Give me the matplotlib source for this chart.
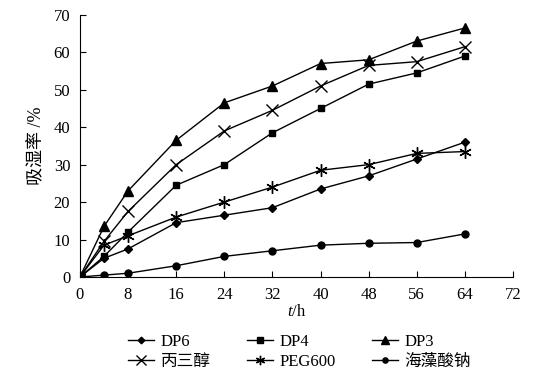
import matplotlib
matplotlib.use("Agg")
import matplotlib.pyplot as plt
from matplotlib.lines import Line2D

plt.rcParams['font.family'] = ['Liberation Serif', 'Noto Sans CJK SC']
plt.rcParams['mathtext.fontset'] = 'custom'
plt.rcParams['mathtext.it'] = 'Liberation Serif:italic'
plt.rcParams['mathtext.rm'] = 'Liberation Serif'

t = [0, 4, 8, 16, 24, 32, 40, 48, 56, 64]
dp6 = [0, 5.0, 7.5, 14.5, 16.5, 18.5, 23.5, 27.0, 31.5, 36.0]
dp4 = [0, 5.5, 12.0, 24.5, 30.0, 38.5, 45.0, 51.5, 54.5, 59.0]
dp3 = [0, 13.5, 23.0, 36.5, 46.5, 51.0, 57.0, 58.0, 63.0, 66.5]
glycerol = [0, 9.5, 17.5, 30.0, 39.0, 44.5, 51.0, 56.5, 57.5, 61.5]
peg600 = [0, 8.5, 11.0, 16.0, 20.0, 24.0, 28.5, 30.0, 33.0, 33.5]
alginate = [0, 0.5, 1.0, 3.0, 5.5, 7.0, 8.5, 9.0, 9.2, 11.5]

names = ['DP6', 'DP4', 'DP3', '丙三醇', 'PEG600', '海藻酸钠']
series = [dp6, dp4, dp3, glycerol, peg600, alginate]
markers = ['D', 's', '^', 'x', (6, 2, 0), 'o']
sizes = [4.5, 5, 7, 9, 9, 5]

xticks = [0, 8, 16, 24, 32, 40, 48, 56, 64, 72]
yticks = [0, 10, 20, 30, 40, 50, 60, 70]

fig = plt.figure(figsize=(5.4, 3.81), dpi=100)
ax = fig.add_axes([0.148, 0.273, 0.802, 0.688])

handles = []
for name, ys, m, s in zip(names, series, markers, sizes):
    ax.plot(t, ys, color='black', lw=1.0, marker=m, markersize=s,
            markeredgewidth=1.0, markerfacecolor='black', markeredgecolor='black')
    handles.append(Line2D([], [], color='black', lw=1.0, marker=m,
                          markersize=s * 0.75, markeredgewidth=1.0,
                          markerfacecolor='black', label=name))

ax.set_xlim(0, 72)
ax.set_ylim(0, 70)
ax.set_xticks(xticks)
ax.set_yticks(yticks)
ax.spines['top'].set_visible(False)
ax.spines['right'].set_visible(False)
ax.tick_params(direction='in', length=4, labelsize=12, pad=7)
ax.set_xlabel('$t$/h', fontsize=12, labelpad=1)
ax.set_ylabel('吸湿率 /%', fontsize=13, labelpad=6)

col_x = [128 / 540, 247 / 540, 372 / 540]
for i, cx in enumerate(col_x):
    fig.legend(handles=[handles[i], handles[i + 3]], ncol=1, loc='upper left',
               bbox_to_anchor=(cx, 1 - 334 / 381), frameon=False, fontsize=12,
               handlelength=1.55, handletextpad=0.4,
               labelspacing=0.25, borderaxespad=0, borderpad=0)

fig.savefig('out.png', dpi=100)
